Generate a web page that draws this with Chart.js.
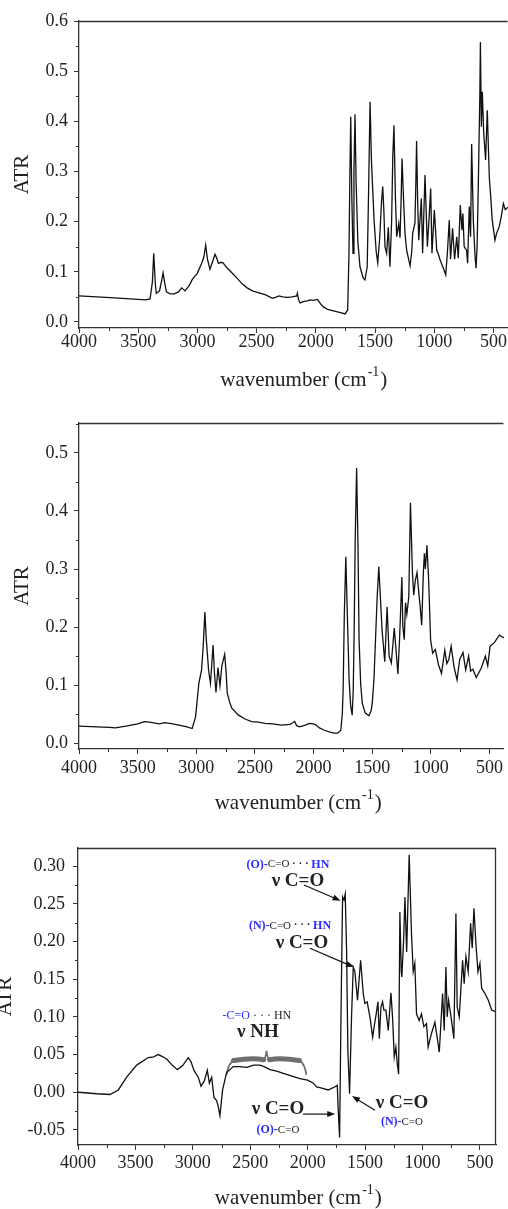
<!DOCTYPE html>
<html>
<head>
<meta charset="utf-8">
<script src="https://cdn.jsdelivr.net/npm/chart.js@4.4.1/dist/chart.umd.min.js"></script>
<style>
  html, body { margin: 0; padding: 0; background: #fff; overflow: hidden; }
  body { width: 508px; height: 1209px; position: relative; }
  .panel { position: absolute; }
  canvas { display: block; }
</style>
</head>
<body>
<div class="panel" style="left:0;top:0"><canvas id="c1" width="508" height="400"></canvas></div>
<div class="panel" style="left:0;top:400px"><canvas id="c2" width="508" height="420"></canvas></div>
<div class="panel" style="left:-7px;top:820px"><canvas id="c3" width="515" height="389"></canvas></div>
<script>
// spectrum 1
const wn1 = [
  4000, 3700, 3437, 3400, 3380, 3369, 3355, 3347, 3320, 3300,
  3290, 3278, 3262, 3230, 3196, 3160, 3133, 3105, 3071, 3043,
  3001, 2964, 2945, 2930, 2915, 2894, 2875, 2851, 2838, 2823,
  2800, 2784, 2750, 2705, 2660, 2621, 2580, 2536, 2480, 2423,
  2367, 2340, 2311, 2280, 2241, 2200, 2161, 2156, 2145, 2133,
  2100, 2070, 2049, 2020, 1990, 1979, 1960, 1936, 1900, 1852,
  1800, 1753, 1731, 1720, 1712, 1705, 1696, 1686, 1678, 1669,
  1660, 1645, 1627, 1600, 1585, 1566, 1555, 1542, 1530, 1508,
  1490, 1477, 1460, 1445, 1435, 1425, 1416, 1402, 1388, 1374,
  1360, 1350, 1340, 1328, 1317, 1300, 1289, 1280, 1272, 1260,
  1247, 1233, 1204, 1190, 1182, 1163, 1155, 1149, 1140, 1131,
  1109, 1098, 1078, 1058, 1041, 1030, 1019, 999, 979, 965,
  951, 923, 903, 889, 873, 862, 845, 828, 810, 797,
  780, 766, 758, 747, 727, 718, 704, 693, 684, 670,
  655, 647, 638, 628, 615, 610, 602, 594, 582, 566,
  552, 535, 521, 510, 487, 473, 451, 434, 416, 400,
  377
];
const atr1 = [
  0.052, 0.048, 0.044, 0.046, 0.080, 0.137, 0.075, 0.057, 0.062, 0.085,
  0.098, 0.080, 0.060, 0.056, 0.056, 0.060, 0.068, 0.062, 0.072, 0.085,
  0.097, 0.117, 0.130, 0.153, 0.125, 0.105, 0.118, 0.135, 0.128, 0.117,
  0.119, 0.118, 0.108, 0.097, 0.086, 0.076, 0.068, 0.062, 0.058, 0.054,
  0.047, 0.049, 0.052, 0.050, 0.049, 0.050, 0.052, 0.057, 0.044, 0.038,
  0.041, 0.042, 0.044, 0.043, 0.045, 0.043, 0.036, 0.030, 0.025, 0.022,
  0.019, 0.016, 0.024, 0.137, 0.300, 0.409, 0.250, 0.137, 0.300, 0.414,
  0.280, 0.160, 0.110, 0.088, 0.084, 0.110, 0.250, 0.439, 0.320, 0.203,
  0.140, 0.118, 0.170, 0.240, 0.270, 0.220, 0.150, 0.137, 0.189, 0.110,
  0.200, 0.330, 0.392, 0.250, 0.170, 0.196, 0.168, 0.240, 0.326, 0.250,
  0.177, 0.143, 0.112, 0.140, 0.177, 0.197, 0.280, 0.361, 0.240, 0.163,
  0.246, 0.137, 0.293, 0.150, 0.217, 0.266, 0.137, 0.223, 0.143, 0.135,
  0.124, 0.107, 0.094, 0.137, 0.203, 0.125, 0.187, 0.125, 0.170, 0.127,
  0.233, 0.183, 0.216, 0.150, 0.143, 0.117, 0.230, 0.170, 0.355, 0.203,
  0.130, 0.107, 0.150, 0.270, 0.450, 0.558, 0.389, 0.459, 0.376, 0.323,
  0.422, 0.289, 0.243, 0.203, 0.163, 0.177, 0.190, 0.210, 0.236, 0.224,
  0.229
];

// spectrum 2
const wn2 = [
  4000, 3850, 3738, 3690, 3600, 3500, 3443, 3400, 3316, 3268,
  3200, 3147, 3080, 3035, 3006, 2978, 2955, 2940, 2927, 2915,
  2895, 2879, 2857, 2845, 2832, 2815, 2798, 2782, 2758, 2745,
  2736, 2715, 2697, 2640, 2580, 2528, 2470, 2415, 2350, 2274,
  2200, 2161, 2145, 2119, 2070, 2035, 2000, 1979, 1950, 1908,
  1860, 1824, 1796, 1768, 1755, 1748, 1738, 1725, 1712, 1697,
  1684, 1671, 1662, 1655, 1645, 1633, 1622, 1612, 1598, 1584,
  1560, 1528, 1510, 1500, 1485, 1472, 1458, 1444, 1430, 1416,
  1393, 1373, 1356, 1337, 1312, 1295, 1281, 1267, 1247, 1239,
  1227, 1216, 1205, 1188, 1174, 1157, 1146, 1132, 1118, 1101,
  1092, 1078, 1064, 1055, 1047, 1033, 1019, 1002, 985, 962,
  935, 909, 881, 864, 847, 827, 802, 777, 754, 726,
  703, 678, 661, 642, 613, 571, 535, 515, 495, 459,
  416, 400, 377
];
const atr2 = [
  0.029, 0.028, 0.027, 0.026, 0.029, 0.033, 0.037, 0.036, 0.033, 0.035,
  0.033, 0.031, 0.028, 0.025, 0.045, 0.103, 0.126, 0.170, 0.226, 0.180,
  0.125, 0.103, 0.169, 0.120, 0.087, 0.130, 0.099, 0.133, 0.153, 0.120,
  0.086, 0.070, 0.060, 0.048, 0.041, 0.037, 0.036, 0.034, 0.033, 0.031,
  0.032, 0.037, 0.030, 0.028, 0.031, 0.034, 0.033, 0.031, 0.026, 0.022,
  0.019, 0.017, 0.017, 0.022, 0.050, 0.091, 0.220, 0.321, 0.220, 0.109,
  0.065, 0.048, 0.090, 0.178, 0.350, 0.474, 0.350, 0.178, 0.100, 0.068,
  0.052, 0.047, 0.055, 0.068, 0.110, 0.178, 0.250, 0.304, 0.250, 0.195,
  0.140, 0.235, 0.150, 0.138, 0.198, 0.155, 0.119, 0.178, 0.286, 0.201,
  0.178, 0.242, 0.222, 0.252, 0.414, 0.293, 0.255, 0.281, 0.294, 0.255,
  0.237, 0.203, 0.293, 0.327, 0.300, 0.341, 0.281, 0.178, 0.155, 0.161,
  0.135, 0.120, 0.160, 0.137, 0.144, 0.167, 0.131, 0.109, 0.144, 0.156,
  0.126, 0.150, 0.124, 0.127, 0.113, 0.129, 0.150, 0.133, 0.167, 0.173,
  0.186, 0.184, 0.181
];

// spectrum 3 (difference spectrum, goes negative)
const wn3 = [
  4000, 3837, 3721, 3649, 3576, 3489, 3388, 3340, 3301, 3260,
  3228, 3180, 3135, 3090, 3040, 3015, 2990, 2953, 2929, 2900,
  2874, 2856, 2836, 2816, 2793, 2780, 2764, 2741, 2706, 2648,
  2590, 2531, 2470, 2415, 2380, 2328, 2270, 2212, 2150, 2067,
  2000, 1951, 1922, 1893, 1821, 1778, 1742, 1735, 1722, 1710,
  1696, 1684, 1673, 1661, 1650, 1635, 1618, 1603, 1589, 1566,
  1539, 1516, 1502, 1482, 1458, 1434, 1417, 1403, 1388, 1376,
  1362, 1348, 1336, 1319, 1298, 1275, 1261, 1246, 1232, 1220,
  1208, 1197, 1185, 1180, 1165, 1153, 1138, 1116, 1096, 1081,
  1067, 1052, 1029, 1009, 988, 965, 951, 922, 892, 870,
  854, 825, 811, 796, 785, 773, 747, 727, 709, 698,
  680, 651, 637, 622, 602, 581, 567, 552, 535, 517,
  500, 485, 456, 427, 398, 363
];
const atr3 = [
  0.000, -0.002, -0.003, 0.003, 0.020, 0.036, 0.046, 0.047, 0.050, 0.047,
  0.044, 0.036, 0.030, 0.035, 0.046, 0.040, 0.029, 0.020, 0.008, 0.015,
  0.029, 0.012, 0.020, -0.007, -0.011, -0.018, -0.031, 0.003, 0.026, 0.034,
  0.034, 0.033, 0.036, 0.036, 0.034, 0.030, 0.028, 0.025, 0.022, 0.018,
  0.016, 0.012, 0.007, 0.006, 0.003, 0.006, 0.009, -0.020, -0.060, 0.100,
  0.259, 0.255, 0.263, 0.188, 0.056, -0.002, 0.100, 0.166, 0.160, 0.122,
  0.175, 0.131, 0.118, 0.120, 0.100, 0.073, 0.091, 0.104, 0.120, 0.071,
  0.113, 0.120, 0.109, 0.109, 0.082, 0.132, 0.100, 0.047, 0.060, 0.038,
  0.024, 0.239, 0.160, 0.153, 0.200, 0.259, 0.186, 0.315, 0.210, 0.160,
  0.171, 0.104, 0.095, 0.104, 0.087, 0.091, 0.060, 0.078, 0.093, 0.070,
  0.053, 0.131, 0.082, 0.166, 0.100, 0.122, 0.095, 0.071, 0.237, 0.113,
  0.100, 0.175, 0.144, 0.180, 0.160, 0.224, 0.191, 0.244, 0.197, 0.160,
  0.171, 0.138, 0.131, 0.122, 0.109, 0.107
];

// axis ticks
const xTicks = [4000, 3500, 3000, 2500, 2000, 1500, 1000, 500];
const yTicks1 = [0, 0.1, 0.2, 0.3, 0.4, 0.5, 0.6];
const yTicks2 = [0, 0.1, 0.2, 0.3, 0.4, 0.5];
const yTicks3 = [-0.05, 0, 0.05, 0.1, 0.15, 0.2, 0.25, 0.3];

const xTitle = ['wavenumber (cm', '-1', ')'];
const yTitle = 'ATR';

const SERIF = '"Liberation Serif", "Times New Roman", serif';
const INK = '#222';
const BLUE = '#2b2bff';

// band assignments written on the third spectrum, placed in data units
const notes3 = [
  { wn: 2172, v: 0.302, runs: [['(O)-', BLUE, 'bold 12px'], ['C=O', INK, '11px'], [' \u00b7 \u00b7 \u00b7 ', INK, 'bold 11px'], ['HN', BLUE, 'bold 12px']] },
  { wn: 2085, v: 0.280, runs: [['\u03bd C=O', INK, 'bold 19px']] },
  { wn: 2154, v: 0.221, runs: [['(N)-', BLUE, 'bold 12px'], ['C=O', INK, '11px'], [' \u00b7 \u00b7 \u00b7 ', INK, 'bold 11px'], ['HN', BLUE, 'bold 12px']] },
  { wn: 2050, v: 0.198, runs: [['\u03bd C=O', INK, 'bold 19px']] },
  { wn: 2442, v: 0.102, runs: [['-C=O', BLUE, '12px'], [' \u00b7 \u00b7 \u00b7 HN', INK, '12px']] },
  { wn: 2433, v: 0.080, runs: [['\u03bd NH', INK, 'bold 19px']] },
  { wn: 2259, v: -0.023, runs: [['\u03bd C=O', INK, 'bold 19px']] },
  { wn: 2259, v: -0.050, runs: [['(O)-', BLUE, 'bold 12px'], ['C=O', INK, '11px']] },
  { wn: 1179, v: -0.015, runs: [['\u03bd C=O', INK, 'bold 19px']] },
  { wn: 1179, v: -0.040, runs: [['(N)-', BLUE, 'bold 12px'], ['C=O', INK, '11px']] }
];
const arrows3 = [
  { from: [2032, 0.275], to: [1713, 0.254] },
  { from: [1980, 0.191], to: [1597, 0.166] },
  { from: [2041, -0.029], to: [1760, -0.029] },
  { from: [1414, -0.024], to: [1614, -0.005] }
];
// curly brace over the broad NH region
const brace3 = { left: 2705, right: 2012, tip: 2358, top: 0.043, end: 0.024, peak: 0.055 };

function runsWidth(ctx, runs) {
  let w = 0;
  for (const r of runs) { ctx.font = r[2] + ' ' + SERIF; w += ctx.measureText(r[0]).width; }
  return w;
}

function drawRuns(ctx, runs, cx, cy) {
  let x0 = cx - runsWidth(ctx, runs) / 2;
  ctx.textAlign = 'left';
  ctx.textBaseline = 'middle';
  for (const [t, color, font] of runs) {
    ctx.font = font + ' ' + SERIF;
    ctx.fillStyle = color;
    ctx.fillText(t, x0, cy);
    x0 += ctx.measureText(t).width;
  }
}

function drawArrow(ctx, x1, y1, x2, y2) {
  const a = Math.atan2(y2 - y1, x2 - x1), len = 8, half = 3;
  ctx.beginPath();
  ctx.moveTo(x1, y1);
  ctx.lineTo(x2 - len * 0.8 * Math.cos(a), y2 - len * 0.8 * Math.sin(a));
  ctx.stroke();
  ctx.beginPath();
  ctx.moveTo(x2, y2);
  ctx.lineTo(x2 - len * Math.cos(a) + half * Math.sin(a), y2 - len * Math.sin(a) - half * Math.cos(a));
  ctx.lineTo(x2 - len * Math.cos(a) - half * Math.sin(a), y2 - len * Math.sin(a) + half * Math.cos(a));
  ctx.closePath();
  ctx.fill();
}

// plot frame, minor ticks and the x title with its superscript
const framePlugin = {
  id: 'frame',
  afterDraw(chart, args, opts) {
    const { ctx, chartArea: a, scales: { x, y } } = chart;
    ctx.save();
    ctx.strokeStyle = '#333';
    ctx.lineWidth = 1.3;
    ctx.beginPath();
    ctx.moveTo(a.left, a.top + 0.5);
    ctx.lineTo(a.right - 0.5, a.top + 0.5);
    if (opts.box) ctx.lineTo(a.right - 0.5, a.bottom);
    ctx.stroke();

    ctx.lineWidth = 1;
    ctx.beginPath();
    for (let v = Math.ceil(x.min / opts.xMinor) * opts.xMinor; v <= x.max; v += opts.xMinor) {
      if (v % opts.xMajor === 0) continue;
      const px = Math.round(x.getPixelForValue(v)) + 0.5;
      ctx.moveTo(px, a.bottom);
      ctx.lineTo(px, a.bottom + 3);
    }
    for (let k = Math.ceil(y.min / opts.yMinor); k * opts.yMinor <= y.max; k++) {
      if (k % 2 === 0) continue;
      const py = Math.round(y.getPixelForValue(k * opts.yMinor)) + 0.5;
      ctx.moveTo(a.left, py);
      ctx.lineTo(a.left - 3, py);
    }
    ctx.stroke();

    const cx = x.getPixelForValue(opts.titleAt);
    const cy = a.bottom + opts.titleGap;
    ctx.fillStyle = INK;
    ctx.textBaseline = 'middle';
    ctx.textAlign = 'left';
    ctx.font = '21px ' + SERIF;
    const w0 = ctx.measureText(xTitle[0]).width, w2 = ctx.measureText(xTitle[2]).width;
    ctx.font = '14px ' + SERIF;
    const w1 = ctx.measureText(xTitle[1]).width;
    let xx = cx - (w0 + w1 + w2) / 2;
    ctx.font = '21px ' + SERIF;
    ctx.fillText(xTitle[0], xx, cy);
    xx += w0;
    ctx.font = '14px ' + SERIF;
    ctx.fillText(xTitle[1], xx + 1, cy - 8);
    xx += w1 + 2;
    ctx.font = '21px ' + SERIF;
    ctx.fillText(xTitle[2], xx, cy);
    ctx.restore();
  }
};

const notesPlugin = {
  id: 'notes',
  beforeDatasetsDraw(chart, args, opts) {
    if (!opts.brace) return;
    const { ctx, scales: { x, y } } = chart;
    const b = opts.brace;
    const X = v => x.getPixelForValue(v), Y = v => y.getPixelForValue(v);
    ctx.save();
    ctx.strokeStyle = '#6f6f6f';
    ctx.lineCap = 'round';
    // end curls
    ctx.lineWidth = 1.8;
    ctx.beginPath();
    ctx.moveTo(X(b.left), Y(b.end));
    ctx.quadraticCurveTo(X(b.left - 20), Y(b.top), X(b.left - 90), Y(b.top));
    ctx.moveTo(X(b.right), Y(b.end));
    ctx.quadraticCurveTo(X(b.right + 20), Y(b.top), X(b.right + 90), Y(b.top));
    ctx.stroke();
    // thick ribbons
    ctx.lineWidth = 5;
    ctx.beginPath();
    ctx.moveTo(X(b.left - 60), Y(b.top - 0.001));
    ctx.quadraticCurveTo(X(b.tip + 120), Y(b.top + 0.003), X(b.tip + 25), Y(b.top));
    ctx.moveTo(X(b.right + 60), Y(b.top - 0.001));
    ctx.quadraticCurveTo(X(b.tip - 120), Y(b.top + 0.003), X(b.tip - 25), Y(b.top));
    ctx.stroke();
    // centre point
    ctx.lineWidth = 1.8;
    ctx.beginPath();
    ctx.moveTo(X(b.tip + 40), Y(b.top));
    ctx.quadraticCurveTo(X(b.tip + 5), Y(b.top), X(b.tip), Y(b.peak));
    ctx.quadraticCurveTo(X(b.tip - 5), Y(b.top), X(b.tip - 40), Y(b.top));
    ctx.stroke();
    ctx.restore();
  },
  afterDraw(chart, args, opts) {
    if (!opts.items) return;
    const { ctx, scales: { x, y } } = chart;
    ctx.save();
    for (const n of opts.items) drawRuns(ctx, n.runs, x.getPixelForValue(n.wn), y.getPixelForValue(n.v));
    ctx.strokeStyle = '#111';
    ctx.fillStyle = '#111';
    ctx.lineWidth = 1.2;
    for (const ar of opts.arrows) {
      drawArrow(ctx, x.getPixelForValue(ar.from[0]), y.getPixelForValue(ar.from[1]),
        x.getPixelForValue(ar.to[0]), y.getPixelForValue(ar.to[1]));
    }
    ctx.restore();
  }
};

Chart.register(framePlugin, notesPlugin);

function makeSpectrum(id, wn, atr, cfg) {
  const points = wn.map((w, i) => ({ x: w, y: atr[i] }));
  return new Chart(document.getElementById(id), {
    type: 'line',
    data: {
      datasets: [{
        data: points,
        borderColor: '#111',
        borderWidth: 1.3,
        pointRadius: 0,
        tension: 0,
        fill: false
      }]
    },
    options: {
      responsive: false,
      animation: false,
      parsing: false,
      layout: { padding: { top: cfg.top, left: 0, right: cfg.right, bottom: 0 } },
      plugins: {
        legend: { display: false },
        tooltip: { enabled: false },
        frame: { box: cfg.box, xMinor: 250, xMajor: 500, yMinor: cfg.yStep / 2, titleAt: cfg.titleAt, titleGap: cfg.titleGap },
        notes: cfg.notes || {}
      },
      scales: {
        x: {
          type: 'linear',
          reverse: true,
          min: cfg.xMin,
          max: 4000,
          afterBuildTicks: s => { s.ticks = xTicks.map(v => ({ value: v })); },
          afterFit: s => { s.height = cfg.xHeight; },
          border: { display: true, color: '#333', width: 1.3 },
          grid: { display: true, drawOnChartArea: false, drawTicks: true, tickLength: 5, tickColor: '#333', tickWidth: 1 },
          ticks: {
            maxRotation: 0,
            autoSkip: false,
            padding: cfg.xPad,
            color: INK,
            font: { family: SERIF, size: 18, lineHeight: 1 },
            callback: v => String(v)
          }
        },
        y: {
          type: 'linear',
          min: cfg.yMin,
          max: cfg.yMax,
          afterBuildTicks: s => { s.ticks = cfg.yTicks.map(v => ({ value: v })); },
          afterFit: s => { s.width = cfg.left; },
          border: { display: true, color: '#333', width: 1.3 },
          grid: { display: true, drawOnChartArea: false, drawTicks: true, tickLength: 5, tickColor: '#333', tickWidth: 1 },
          title: { display: true, text: yTitle, color: INK, font: { family: SERIF, size: 21 }, padding: { top: cfg.yTitlePad, bottom: 0 } },
          ticks: {
            autoSkip: false,
            padding: cfg.yPad,
            color: INK,
            font: { family: SERIF, size: 18 },
            callback: v => v.toFixed(cfg.digits)
          }
        }
      }
    }
  });
}

makeSpectrum('c1', wn1, atr1, {
  top: 21, right: 0, left: 79, xHeight: 72, xMin: 377, yMin: -0.012, yMax: 0.6, yStep: 0.1, yTicks: yTicks1, digits: 1,
  xPad: 0, yPad: 6, yTitlePad: 10, titleAt: 2110, titleGap: 52, box: false
});
makeSpectrum('c2', wn2, atr2, {
  top: 23, right: 0, left: 79, xHeight: 71, xMin: 377, yMin: -0.0103, yMax: 0.5517, yStep: 0.1, yTicks: yTicks2, digits: 1,
  xPad: 5, yPad: 6, yTitlePad: 10, titleAt: 2140, titleGap: 54, box: false
});
makeSpectrum('c3', wn3, atr3, {
  top: 28, right: 12, left: 85, xHeight: 64, xMin: 360, yMin: -0.07, yMax: 0.324, yStep: 0.05, yTicks: yTicks3, digits: 2,
  xPad: 4, yPad: 8, yTitlePad: 0, titleAt: 2090, titleGap: 53, box: true,
  notes: { items: notes3, arrows: arrows3, brace: brace3 }
});
</script>
</body>
</html>
